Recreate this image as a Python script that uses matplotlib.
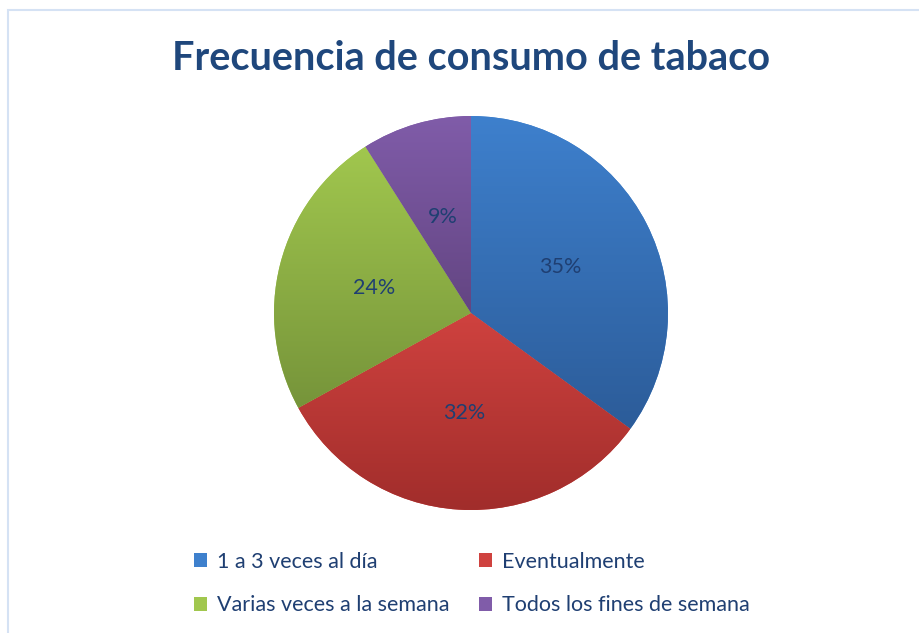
import numpy as np
import matplotlib
matplotlib.use('Agg')
import matplotlib.pyplot as plt
from matplotlib.colors import LinearSegmentedColormap
from matplotlib.patches import Patch, Rectangle

# data
labels = ['1 a 3 veces al día', 'Eventualmente', 'Varias veces a la semana', 'Todos los fines de semana']
values = [35, 32, 24, 9]
light = ['#3e80cd', '#cf423f', '#a1c74e', '#805ca9']
dark = ['#2c5c99', '#a12d2b', '#76943a', '#634582']

plt.rcParams['font.family'] = ['Lato', 'DejaVu Sans']

fig = plt.figure(figsize=(9.2, 6.33), dpi=100)
fig.patch.set_facecolor('white')

# light frame of the chart area
fig.add_artist(Rectangle((8 / 920, -0.05), 1.2, 1 - 10 / 633 + 0.05,
                         transform=fig.transFigure, fill=False,
                         edgecolor='#d5e2f4', linewidth=1.5))

ax = fig.add_axes([0.2978, 0.1943, 0.4283, 0.6224])
wedges, texts, autotexts = ax.pie(values, startangle=90, counterclock=False,
                                  colors=light, autopct='%1.0f%%', pctdistance=0.51,
                                  textprops={'color': '#1f3f72', 'fontsize': 15.5})

# vertical gradient inside each slice
grad = np.linspace(0, 1, 256).reshape(-1, 1)
for w, c1, c2 in zip(wedges, light, dark):
    x0, y0, x1, y1 = w.get_path().get_extents().extents
    cmap = LinearSegmentedColormap.from_list('g', [c1, c2])
    im = ax.imshow(grad, cmap=cmap, extent=(x0, x1, y0, y1), origin='upper',
                   aspect='auto', zorder=w.get_zorder() + 0.1)
    im.set_clip_path(w)
for t in autotexts:
    t.set_zorder(10)

ax.set_xlim(-1, 1)
ax.set_ylim(-1, 1)
ax.set_aspect('equal')
ax.axis('off')

fig.text(0.512, 0.907, 'Frecuencia de consumo de tabaco', ha='center', va='center',
         fontsize=28.5, fontweight='bold', color='#1f477c')

# legend filled row by row
order = [0, 2, 1, 3]
handles = [Patch(facecolor=light[i], edgecolor='none') for i in order]
fig.legend(handles, [labels[i] for i in order], loc='center', bbox_to_anchor=(0.513, 0.078),
           ncol=2, frameon=False, fontsize=15.5, labelcolor='#1f3f72', handlelength=0.6,
           handleheight=0.6, handletextpad=0.45, columnspacing=1.4, labelspacing=1.1)

fig.savefig('out.png', dpi=100)
